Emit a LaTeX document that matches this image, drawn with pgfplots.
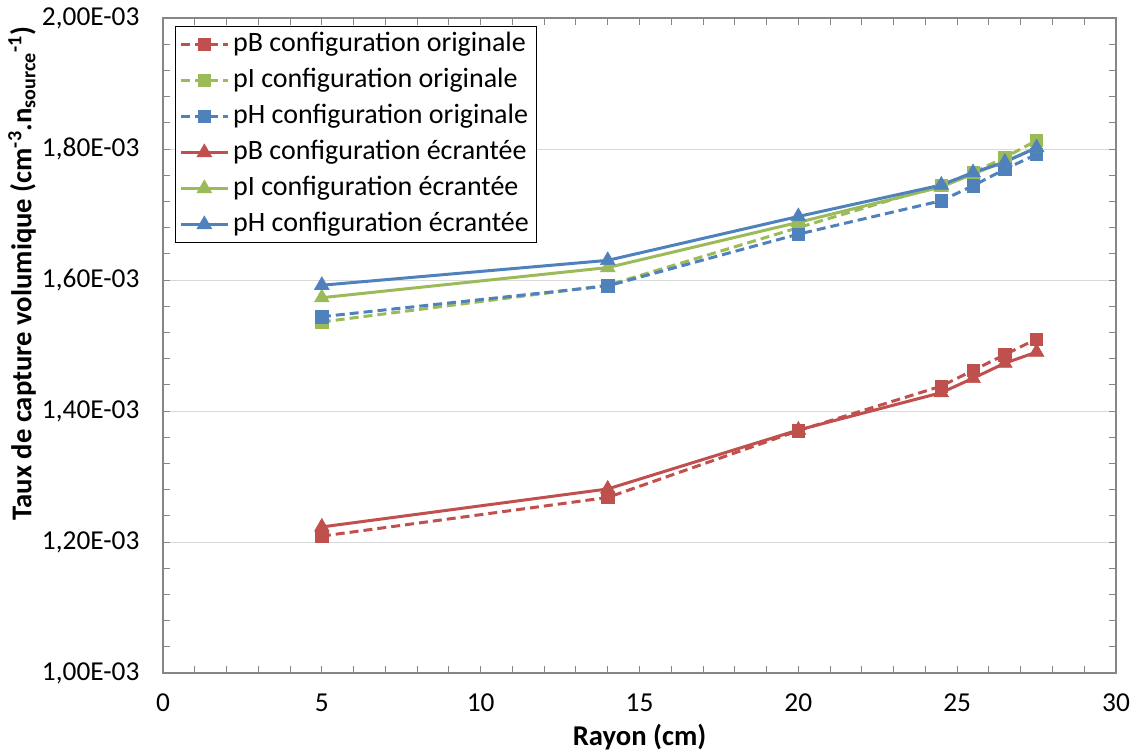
\documentclass[border=0pt]{standalone}
\usepackage{fontspec}
\setmainfont{Carlito}
\usepackage{pgfplots}
\pgfplotsset{compat=1.18}
\definecolor{cR}{HTML}{C0504D}
\definecolor{cG}{HTML}{9BBB59}
\definecolor{cB}{HTML}{4F81BD}
\definecolor{axgray}{HTML}{868686}
\definecolor{gridgray}{HTML}{D9D9D9}
\begin{document}
\begin{tikzpicture}
\begin{axis}[name=ax, scale only axis, width=714.75pt, height=491.25pt,
  xmin=0, xmax=30, ymin=1, ymax=2,
  xtick={0,5,...,30}, minor x tick num=4,
  ytick={1,1.2,1.4,1.6,1.8,2}, minor y tick num=4,
  yticklabels={{1,00E-03},{1,20E-03},{1,40E-03},{1,60E-03},{1,80E-03},{2,00E-03}},
  tick align=inside, major tick length=5pt, minor tick length=5pt,
  axis line style={axgray, line width=0.9pt},
  every tick/.style={axgray, line width=0.75pt},
  ymajorgrids, major grid style={gridgray, line width=0.75pt},
  /pgf/number format/assume math mode=true,
  ticklabel style={font=\fontsize{20.5}{24}\selectfont, black},
  xticklabel style={anchor=base, yshift=-28.5pt},
  yticklabel style={anchor=east, inner sep=0pt, xshift=-17.5pt},
  xlabel={Rayon (cm)},
  ylabel={Taux de capture volumique (cm\textsuperscript{-3}.n\textsubscript{source}\textsuperscript{-1})},
  label style={font=\fontsize{21.5}{25}\selectfont\bfseries},
  xlabel style={at={(axis description cs:0.5,-0.0977)}, anchor=center},
  ylabel style={at={(axis description cs:-0.148,0.61)}, anchor=center},
  legend style={at={(axis description cs:0.0126,0.9878)}, anchor=north west,
    draw=black, line width=0.75pt, fill=white,
    font=\fontsize{21}{25}\selectfont, inner xsep=3pt, inner ysep=0pt,
    nodes={inner ysep=4pt, inner xsep=3pt, text height=14.5pt, text depth=4.5pt}},
  legend cell align=left,
  legend image code/.code={\draw[mark repeat=2, mark phase=2] plot coordinates {(0pt,0pt) (17.5pt,0pt) (35pt,0pt)};},
  every axis plot/.append style={line width=2.25pt},
  orig/.style={dash pattern=on 6.75pt off 3.75pt, mark=square*, mark size=4.6pt},
  scr/.style={solid, mark=triangle*, mark size=6.4pt},
]
\addplot[orig, color=cR, mark options={solid, line width=0.4pt, fill=cR}] coordinates {(5,1.209) (14,1.268) (20,1.370) (24.5,1.438) (25.5,1.462) (26.5,1.486) (27.5,1.510)};
\addlegendentry{pB configuration originale}
\addplot[orig, color=cG, mark options={solid, line width=0.4pt, fill=cG}] coordinates {(5,1.536) (14,1.592) (20,1.680) (24.5,1.745) (25.5,1.764) (26.5,1.787) (27.5,1.813)};
\addlegendentry{pI configuration originale}
\addplot[orig, color=cB, mark options={solid, line width=0.4pt, fill=cB}] coordinates {(5,1.544) (14,1.591) (20,1.670) (24.5,1.721) (25.5,1.744) (26.5,1.769) (27.5,1.792)};
\addlegendentry{pH configuration originale}
\addplot[scr, color=cR, mark options={solid, line width=0.4pt, fill=cR}] coordinates {(5,1.223) (14,1.281) (20,1.371) (24.5,1.428) (25.5,1.450) (26.5,1.473) (27.5,1.490)};
\addlegendentry{pB configuration écrantée}
\addplot[scr, color=cG, mark options={solid, line width=0.4pt, fill=cG}] coordinates {(5,1.573) (14,1.619) (20,1.688) (24.5,1.742) (25.5,1.762) (26.5,1.781) (27.5,1.802)};
\addlegendentry{pI configuration écrantée}
\addplot[scr, color=cB, mark options={solid, line width=0.4pt, fill=cB}] coordinates {(5,1.592) (14,1.630) (20,1.697) (24.5,1.745) (25.5,1.764) (26.5,1.780) (27.5,1.802)};
\addlegendentry{pH configuration écrantée}
\end{axis}
\pgfresetboundingbox
\path[use as bounding box] ([xshift=-122.25pt,yshift=-60.75pt]ax.south west) rectangle ([xshift=15.75pt,yshift=13.5pt]ax.north east);
\end{tikzpicture}
\end{document}
